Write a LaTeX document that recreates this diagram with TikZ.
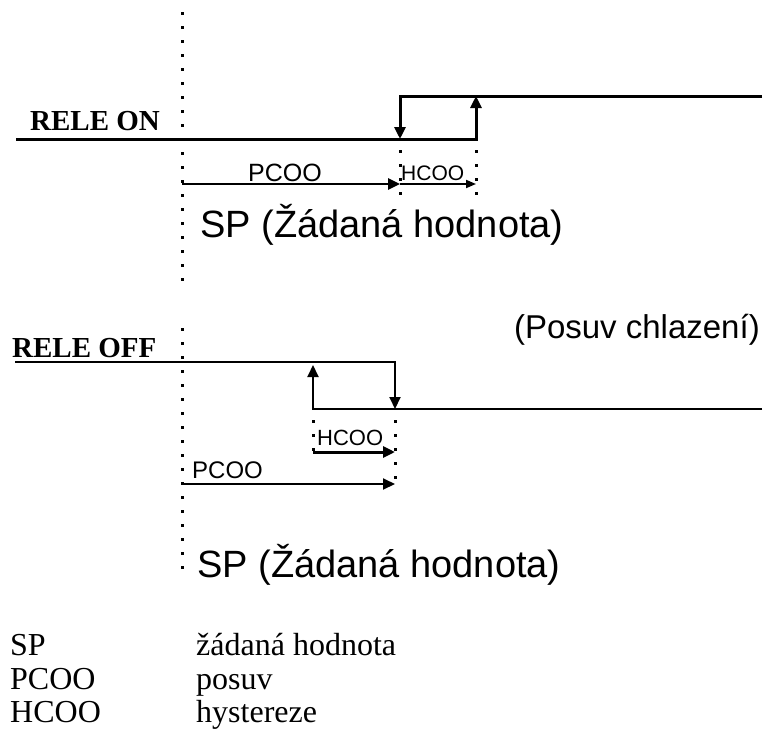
\documentclass[tikz,border=0pt]{standalone}
\usepackage{fontspec}
\setmainfont{Liberation Serif}
\setsansfont{Liberation Sans}
\usetikzlibrary{arrows.meta}

\begin{document}
\begin{tikzpicture}[x=1pt,y=-1pt,
  guide/.style={line width=3pt, dash pattern=on 3pt off 11pt},
  tip/.style={-{Triangle[length=12pt,width=11pt]}},
  smalltip/.style={-{Triangle[length=10pt,width=8pt]}},
  lbl/.style={inner sep=0pt, anchor=base west},
  relelbl/.style={lbl, font=\fontsize{29}{32}\selectfont\bfseries},
  splbl/.style={lbl, font=\sffamily\fontsize{38}{42}\selectfont},
  keylbl/.style={lbl, font=\fontsize{32}{36}\selectfont}]
\useasboundingbox (0,0) rectangle (763,736);

% relay switching on
\node[relelbl] (ron) at (30,130) {RELE ON};
\coordinate (on-l) at (16,139);
\coordinate (on-p) at (400,139);
\coordinate (on-h) at (476,139);
\coordinate (on-pt) at (400,96);
\coordinate (on-ht) at (476,96);
\coordinate (on-r) at (762,96);
\draw[line width=3pt,tip] (on-l) -- (on-h) -- (on-ht);
\draw[line width=3pt,tip] (on-r) -- (on-pt) -- (on-p);
\draw[guide] (182,12) -- (182,290);
\draw[guide] (400,150) -- (400,200);
\draw[guide] (476,150) -- (476,200);
\coordinate (on-sp) at (182,184);
\coordinate (on-pc) at (400,184);
\coordinate (on-hc) at (476,184);
\draw[line width=2.5pt,tip] (on-sp) -- (on-pc);
\draw[line width=1.8pt,smalltip] (on-pc) -- (on-hc);
\node[lbl, font=\sffamily\fontsize{25}{28}\selectfont] (onpcoo) at (248,181) {PCOO};
\node[lbl, font=\sffamily\fontsize{21}{24}\selectfont] (onhcoo) at (401,180) {HCOO};
\node[splbl] (onsp) at (200,237) {SP (Žádaná hodnota)};

\node[lbl, anchor=base east, font=\sffamily\fontsize{33}{36}\selectfont] (cool) at (760,338) {(Posuv chlazení)};

% relay switching off
\node[relelbl] (roff) at (12,357) {RELE OFF};
\coordinate (off-l) at (15,362);
\coordinate (off-p) at (395,362);
\coordinate (off-pb) at (395,409);
\coordinate (off-h) at (313,365);
\coordinate (off-hb) at (313,409);
\coordinate (off-r) at (762,409);
\draw[line width=2pt,tip] (off-l) -- (off-p) -- (off-pb);
\draw[line width=2pt,tip] (off-r) -- (off-hb) -- (off-h);
\draw[guide] (182,328) -- (182,580);
\draw[guide] (313,420) -- (313,455);
\draw[guide] (395,420) -- (395,488);
\coordinate (off-hs) at (313,452);
\coordinate (off-he) at (395,452);
\coordinate (off-ps) at (182,484);
\coordinate (off-pe) at (395,484);
\draw[line width=3pt,tip] (off-hs) -- (off-he);
\draw[line width=2pt,tip] (off-ps) -- (off-pe);
\node[lbl, font=\sffamily\fontsize{22}{25}\selectfont] (offhcoo) at (317,445) {HCOO};
\node[lbl, font=\sffamily\fontsize{24}{27}\selectfont] (offpcoo) at (192,478) {PCOO};
\node[splbl] (offsp) at (197,577) {SP (Žádaná hodnota)};

% legend
\node[keylbl] (k1) at (10,655) {SP};
\node[keylbl] (k2) at (10,689) {PCOO};
\node[keylbl] (k3) at (10,722) {HCOO};
\node[keylbl] (v1) at (196,655) {žádaná hodnota};
\node[keylbl] (v2) at (196,689) {posuv};
\node[keylbl] (v3) at (196,722) {hystereze};
\end{tikzpicture}
\end{document}
